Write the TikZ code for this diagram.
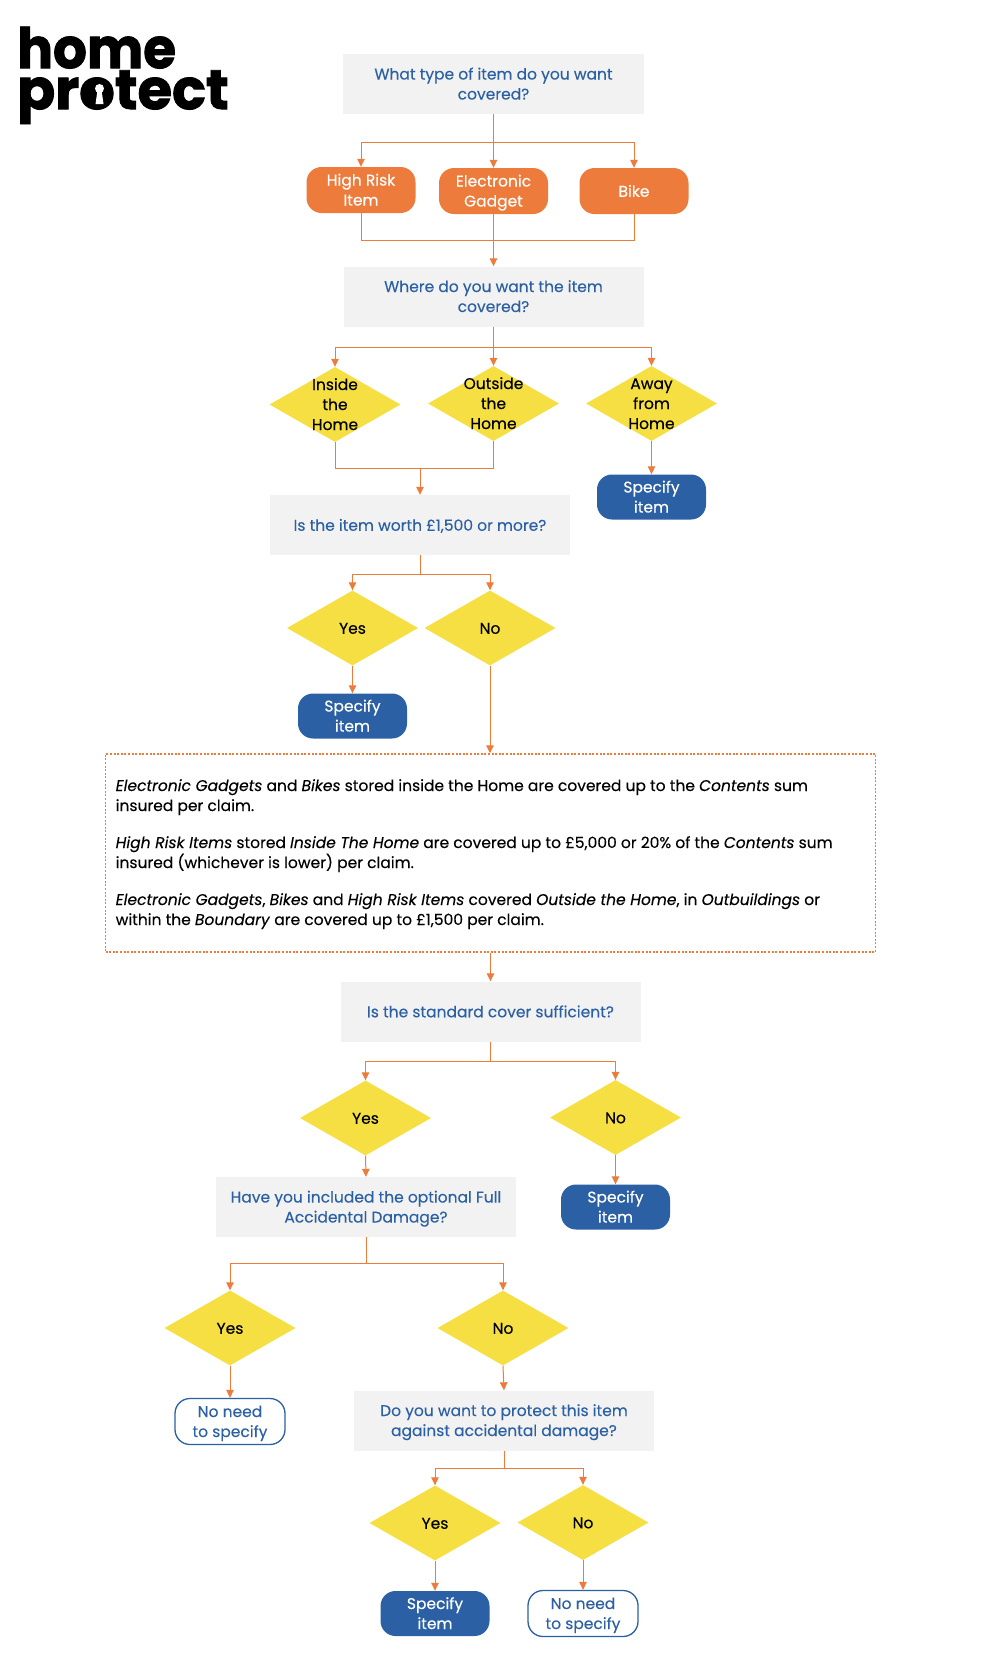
\documentclass[tikz,border=0pt]{standalone}
\usepackage{fontspec}
\setmainfont{Poppins}[FakeBold=0.2]
\newfontfamily\logofont{Poppins}[FakeBold=1.6,FakeStretch=0.95]
\newfontfamily\logofontb{Poppins}[FakeBold=1.6]
\usetikzlibrary{shapes.geometric,arrows.meta}
\definecolor{org}{HTML}{ED7B3C}
\definecolor{ylw}{HTML}{F5DF42}
\definecolor{nvy}{HTML}{2B60A4}
\definecolor{gry}{HTML}{F2F2F2}
\newcommand{\txt}{\fontsize{15.5}{20}\selectfont}
\newcommand{\fl}{\rule{0pt}{16pt}}
\tikzset{
 tx/.style={align=center,font=\txt,inner sep=0pt,execute at begin node={\rule{0pt}{16.5pt}},execute at end node={\rule[-5pt]{0pt}{1pt}}},
 ques/.style={tx,fill=gry,text=nvy,minimum width=300pt,minimum height=60pt},
 opt/.style={tx,fill=org,text=white,rounded corners=15pt,minimum width=109pt,minimum height=46pt},
 spec/.style={tx,fill=nvy,text=white,rounded corners=15pt,minimum width=109pt,minimum height=45pt},
 noneed/.style={tx,draw=nvy,line width=1.3pt,fill=white,text=nvy,rounded corners=15pt,minimum width=110pt,minimum height=46pt},
 dia/.style={diamond,fill=ylw,aspect=1.75,minimum width=131pt,minimum height=75pt,inner sep=0pt},
 dl/.style={label={[tx,text=black]center:#1}},
 conn/.style={draw=org,line width=1pt,-{Triangle[length=8pt,width=7.5pt,fill=org]}},
 line/.style={draw=org,line width=1pt},
}
\begin{document}
\begin{tikzpicture}[x=1pt,y=-1pt]
\useasboundingbox (0,0) rectangle (1008,1663);
% logo
\node[anchor=north west,inner sep=0pt,align=left,font=\fontsize{56}{41}\selectfont\bfseries] (logo) at (17,26.5) {\logofont home\\\logofontb protect};
\fill[black] (99.5,93.5) circle (13.5pt);
\fill[white] (99.5,88.5) circle (4.5pt);
\fill[white] (97.5,90) -- (101.5,90) -- (103.5,104) -- (95.5,104) -- cycle;
% questions
\node[ques,minimum width=301pt] (q1) at (493.5,84) {\fl What type of item do you want\\covered?};
\node[ques] (q2) at (493.5,296.5) {\fl Where do you want the item\\covered?};
\node[ques] (q3) at (420,525) {Is the item worth £1,500 or more?};
\node[ques] (q4) at (490.5,1011.5) {Is the standard cover sufficient?};
\node[ques] (q5) at (366,1207) {\fl Have you included the optional Full\\Accidental Damage?};
\node[ques] (q6) at (504,1420.5) {\fl Do you want to protect this item\\against accidental damage?};
% options
\node[opt] (o1) at (361,190) {\fl High Risk\\Item};
\node[opt] (o2) at (493.5,191) {\fl Electronic\\Gadget};
\node[opt] (o3) at (634,191) {Bike};
% diamonds
\node[dia,dl={\fl Inside\\the\\Home}] (d1) at (335,404.5) {};
\node[dia,dl={\fl Outside\\the\\Home}] (d2) at (493.5,403.5) {};
\node[dia,dl={\fl Away\\from\\Home}] (d3) at (651.5,403.5) {};
\node[dia,dl=Yes] (d4) at (352.5,628) {};
\node[dia,dl=No] (d5) at (490,628) {};
\node[dia,dl=Yes] (d6) at (365.5,1118) {};
\node[dia,dl=No] (d7) at (615.5,1117.5) {};
\node[dia,dl=Yes] (d8) at (230,1328) {};
\node[dia,dl=No] (d9) at (503,1328) {};
\node[dia,dl=Yes] (d10) at (435,1523) {};
\node[dia,dl=No] (d11) at (583,1522.5) {};
% terminals
\node[spec] (s1) at (651.5,497) {\fl Specify\\item};
\node[spec] (s2) at (352.5,716) {\fl Specify\\item};
\node[spec] (s3) at (615.5,1207) {\fl Specify\\item};
\node[spec] (s4) at (435,1613.5) {\fl Specify\\item};
\node[noneed] (n1) at (230,1421.5) {\fl No need\\to specify};
\node[noneed] (n2) at (583,1613.5) {\fl No need\\to specify};
% note box
\node[draw=org,line width=1.5pt,dash pattern=on 2pt off 1.6pt,minimum width=770pt,minimum height=198pt,inner sep=0pt] (note) at (490.5,853) {};
\node[anchor=north west,align=left,inner sep=0pt,font=\txt,text=black] (notetxt) at (115.5,779) {\textit{Electronic Gadgets} and \textit{Bikes} stored inside the Home are covered up to the \textit{Contents} sum\\insured per claim.\\[17pt]\textit{High Risk Items} stored \textit{Inside The Home} are covered up to £5,000 or 20\% of the \textit{Contents} sum\\insured (whichever is lower) per claim.\\[17pt]\textit{Electronic Gadgets}, \textit{Bikes} and \textit{High Risk Items} covered \textit{Outside the Home}, in \textit{Outbuildings} or\\within the \textit{Boundary} are covered up to £1,500 per claim.};
% junctions
\coordinate (j1) at (493.5,142);
\coordinate (j2) at (493.5,240.5);
\coordinate (j3) at (493.5,347);
\coordinate (j4) at (420,468);
\coordinate (j5) at (420,574);
\coordinate (j6) at (490.5,1061);
\coordinate (j7) at (366,1263.5);
\coordinate (j8) at (504,1468);
% connectors
\draw[conn] (q1.south) -- (o2.north);
\draw[conn] (j1) -| (o1.north);
\draw[conn] (j1) -| (o3.north);
\draw[conn] (o2.south) -- (q2.north);
\draw[line] (o1.south) |- (j2);
\draw[line] (o3.south) |- (j2);
\draw[conn] (q2.south) -- (d2.north);
\draw[conn] (j3) -| (d1.north);
\draw[conn] (j3) -| (d3.north);
\draw[line] (d1.south) |- (j4);
\draw[line] (d2.south) |- (j4);
\draw[conn] (j4) -- (q3.north);
\draw[conn] (d3.south) -- (s1.north);
\draw[line] (q3.south) -- (j5);
\draw[conn] (j5) -| (d4.north);
\draw[conn] (j5) -| (d5.north);
\draw[conn] (d4.south) -- (s2.north);
\draw[conn] (d5.south) -- (d5.south |- note.north);
\draw[conn] (q4.north |- note.south) -- (q4.north);
\draw[line] (q4.south) -- (j6);
\draw[conn] (j6) -| (d6.north);
\draw[conn] (j6) -| (d7.north);
\draw[conn] (d6.south) -- (q5.north);
\draw[conn] (d7.south) -- (s3.north);
\draw[line] (q5.south) -- (j7);
\draw[conn] (j7) -| (d8.north);
\draw[conn] (j7) -| (d9.north);
\draw[conn] (d8.south) -- (n1.north);
\draw[conn] (d9.south) -- (q6.north);
\draw[line] (q6.south) -- (j8);
\draw[conn] (j8) -| (d10.north);
\draw[conn] (j8) -| (d11.north);
\draw[conn] (d10.south) -- (s4.north);
\draw[conn] (d11.south) -- (n2.north);
\end{tikzpicture}
\end{document}
